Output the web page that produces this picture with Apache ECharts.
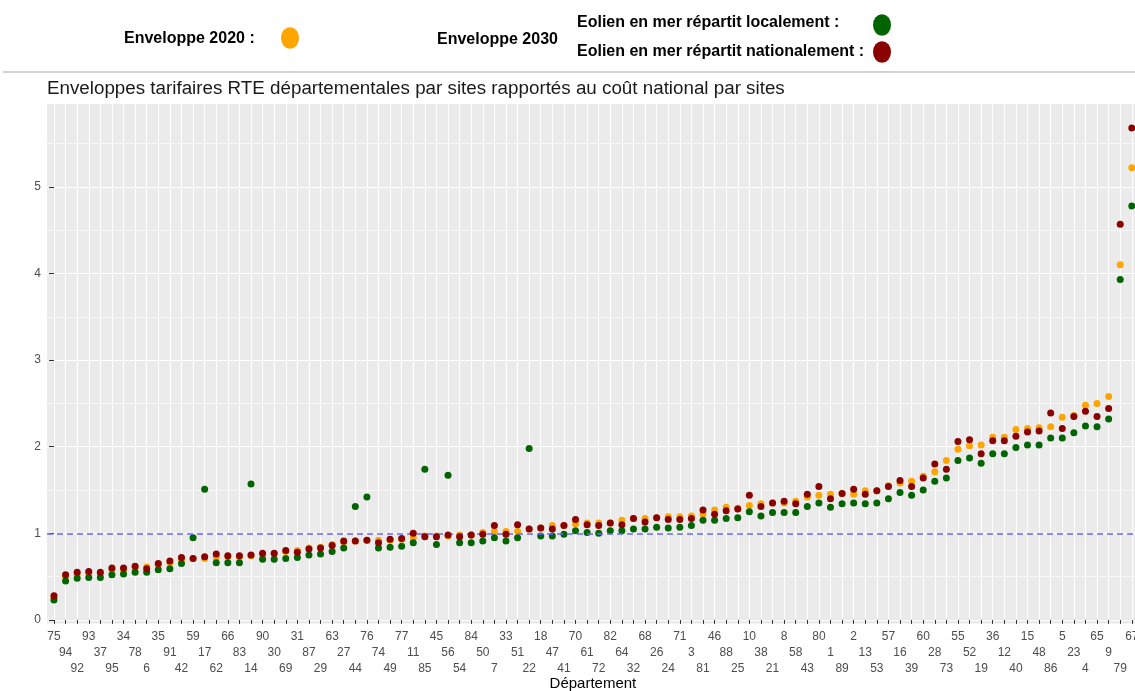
<!DOCTYPE html>
<html>
<head>
<meta charset="utf-8">
<script src="https://cdn.jsdelivr.net/npm/echarts@6.0.0/dist/echarts.min.js"></script>
<style>
html,body{margin:0;padding:0;background:#fff;}
#chart{width:1135px;height:691px;}
</style>
</head>
<body>
<div id="chart"></div>
<script>
// Départements (x-axis categories, in plotted order)
const departements = ['75','94','92','93','37','95','34','78','6','35','91','42','59','17','62','66','83','14','90','30','69','31','87','29','63','27','44','76','74','49','77','11','85','45','56','54','84','50','7','33','51','22','18','47','41','70','61','72','82','64','32','68','26','24','71','3','81','46','88','25','10','38','21','8','58','43','80','1','89','2','13','53','57','16','39','60','28','73','55','52','19','36','12','40','15','48','86','5','23','4','65','9','79','67'];

// Enveloppe 2020 (orange)
const enveloppe2020 = [0.26,0.50,0.52,0.54,0.53,0.58,0.58,0.60,0.61,0.63,0.66,0.70,0.71,0.71,0.72,0.73,0.73,0.74,0.75,0.76,0.79,0.80,0.83,0.84,0.87,0.90,0.91,0.92,0.92,0.92,0.93,0.95,0.97,0.97,0.97,0.98,0.98,1.01,1.02,1.02,1.02,1.05,1.06,1.09,1.09,1.11,1.12,1.12,1.12,1.15,1.17,1.17,1.18,1.19,1.19,1.20,1.22,1.27,1.30,1.29,1.32,1.34,1.35,1.35,1.37,1.42,1.44,1.45,1.46,1.45,1.49,1.49,1.55,1.58,1.60,1.66,1.71,1.84,1.97,2.01,2.02,2.11,2.11,2.20,2.21,2.22,2.23,2.34,2.36,2.48,2.50,2.58,4.10,5.22];

// Enveloppe 2030 — éolien en mer réparti localement (vert)
const enveloppe2030Local = [0.23,0.45,0.48,0.49,0.49,0.52,0.53,0.55,0.55,0.58,0.59,0.65,0.95,1.51,0.66,0.66,0.66,1.57,0.70,0.70,0.71,0.72,0.75,0.76,0.79,0.83,1.31,1.42,0.83,0.84,0.85,0.89,1.74,0.87,1.67,0.89,0.89,0.91,0.95,0.91,0.95,1.98,0.97,0.97,0.99,1.03,1.01,1.00,1.03,1.03,1.05,1.05,1.07,1.06,1.07,1.09,1.15,1.15,1.17,1.18,1.25,1.20,1.24,1.24,1.24,1.31,1.35,1.30,1.34,1.35,1.34,1.35,1.40,1.47,1.44,1.50,1.60,1.64,1.84,1.87,1.81,1.92,1.92,1.99,2.02,2.02,2.10,2.10,2.16,2.24,2.23,2.32,3.93,4.78];

// Enveloppe 2030 — éolien en mer réparti nationalement (rouge)
const enveloppe2030National = [0.28,0.52,0.55,0.56,0.55,0.60,0.60,0.62,0.59,0.65,0.68,0.72,0.71,0.73,0.76,0.74,0.74,0.75,0.77,0.77,0.80,0.78,0.82,0.83,0.86,0.91,0.91,0.92,0.89,0.93,0.94,1.00,0.96,0.96,0.98,0.96,0.98,0.99,1.09,0.99,1.10,1.05,1.06,1.05,1.09,1.16,1.10,1.09,1.12,1.10,1.17,1.13,1.18,1.16,1.16,1.17,1.27,1.22,1.26,1.28,1.44,1.31,1.35,1.37,1.34,1.45,1.54,1.40,1.46,1.51,1.45,1.49,1.54,1.61,1.54,1.64,1.80,1.74,2.06,2.08,1.92,2.07,2.07,2.12,2.17,2.18,2.39,2.21,2.35,2.41,2.35,2.44,4.57,5.68];

const yTicks = [0, 1, 2, 3, 4, 5];
const xTicks = departements.map(function (d, i) { return i; });
// the tick labels are staggered on three rows
const xRows = [0, 1, 2].map(function (r) { return xTicks.filter(function (i) { return i % 3 === r; }); });

const FONT = 'Liberation Sans, Arial, sans-serif';
const chart = echarts.init(document.getElementById('chart'), null, {renderer: 'canvas'});

function pointSeries(name, values, color, z) {
  return {
    name: name, type: 'scatter', xAxisIndex: 0, yAxisIndex: 0,
    data: values.map(function (v, i) { return [i, v]; }),
    symbol: 'circle', symbolSize: 7,
    itemStyle: {color: color, opacity: 1}, z: z, silent: true
  };
}

const s2020 = pointSeries('Enveloppe 2020', enveloppe2020, '#FFA500', 3);
const sLocal = pointSeries('Eolien en mer répartit localement', enveloppe2030Local, '#006400', 4);
const sNat = pointSeries('Eolien en mer répartit nationalement', enveloppe2030National, '#8B0000', 5);
s2020.markLine = {
  silent: true, symbol: 'none', animation: false,
  label: {show: false},
  lineStyle: {color: '#6666ff', type: [6, 4], width: 1.5},
  data: [[{coord: [-0.6, 1]}, {coord: [94, 1]}]]
};

function rowAxis(r) {
  const ax = {
    type: 'value', min: -1, max: 94, interval: 1, offset: 4, position: 'bottom',
    axisLine: {show: false},
    axisTick: {show: r === 0, length: 4, customValues: xTicks, lineStyle: {color: '#333333', width: 1}},
    axisLabel: {
      customValues: xRows[r], showMinLabel: true, showMaxLabel: true, hideOverlap: false,
      color: '#4d4d4d', fontSize: 12, fontFamily: FONT, lineHeight: 16, margin: 5 + 16 * r,
      formatter: function (v) { return departements[v]; }
    },
    splitLine: {show: r === 0, lineStyle: {color: '#ffffff', width: 1.1}},
    minorSplitLine: {show: false}
  };
  if (r === 0) {
    ax.name = 'Département';
    ax.nameLocation = 'middle';
    ax.nameGap = 52;
    ax.nameMoveOverlap = false;
    ax.nameTextStyle = {color: '#000000', fontSize: 15, fontFamily: FONT};
  }
  return ax;
}

const legendFont = 'bold 16px ' + FONT;

chart.setOption({
  animation: false,
  backgroundColor: '#ffffff',
  title: {
    text: 'Enveloppes tarifaires RTE départementales par sites rapportés au coût national par sites',
    left: 42, top: 74,
    textStyle: {fontFamily: FONT, fontSize: 18.8, fontWeight: 'normal', color: '#1a1a1a'}
  },
  grid: {left: 42.4, top: 100.3, width: 1101, height: 519.6, containLabel: false, outerBoundsMode: 'none'},
  xAxis: [rowAxis(0), rowAxis(1), rowAxis(2)],
  yAxis: {
    type: 'value', min: 0, max: 6, interval: 1, offset: -4.6,
    axisLine: {show: false},
    axisTick: {show: true, length: 5, customValues: yTicks, lineStyle: {color: '#333333', width: 1}},
    axisLabel: {color: '#4d4d4d', fontSize: 12, fontFamily: FONT, margin: 6, customValues: yTicks},
    splitLine: {show: true, lineStyle: {color: '#ffffff', width: 1.2}},
    minorTick: {show: false, splitNumber: 2},
    minorSplitLine: {show: true, lineStyle: {color: '#ffffff', width: 0.6}}
  },
  graphic: [
    {type: 'rect', z: -10, shape: {x: 47, y: 104, width: 1100, height: 519.5}, style: {fill: '#EBEBEB'}},
    {type: 'line', shape: {x1: 3, y1: 72, x2: 1135, y2: 72}, style: {stroke: '#c4c4c4', lineWidth: 1.5}},
    {type: 'text', x: 124, y: 39, style: {text: 'Enveloppe 2020 :', font: legendFont, fill: '#000', verticalAlign: 'middle'}},
    {type: 'circle', x: 290, y: 38, scaleY: 1.2, shape: {cx: 0, cy: 0, r: 9}, style: {fill: '#FFA500'}},
    {type: 'text', x: 437, y: 40, style: {text: 'Enveloppe 2030', font: legendFont, fill: '#000', verticalAlign: 'middle'}},
    {type: 'text', x: 577, y: 23, style: {text: 'Eolien en mer répartit localement :', font: legendFont, fill: '#000', verticalAlign: 'middle'}},
    {type: 'circle', x: 882, y: 25, scaleY: 1.2, shape: {cx: 0, cy: 0, r: 9}, style: {fill: '#006400'}},
    {type: 'text', x: 577, y: 52, style: {text: 'Eolien en mer répartit nationalement :', font: legendFont, fill: '#000', verticalAlign: 'middle'}},
    {type: 'circle', x: 882, y: 52, scaleY: 1.2, shape: {cx: 0, cy: 0, r: 9}, style: {fill: '#8B0000'}}
  ],
  series: [s2020, sLocal, sNat]
});
</script>
</body>
</html>
